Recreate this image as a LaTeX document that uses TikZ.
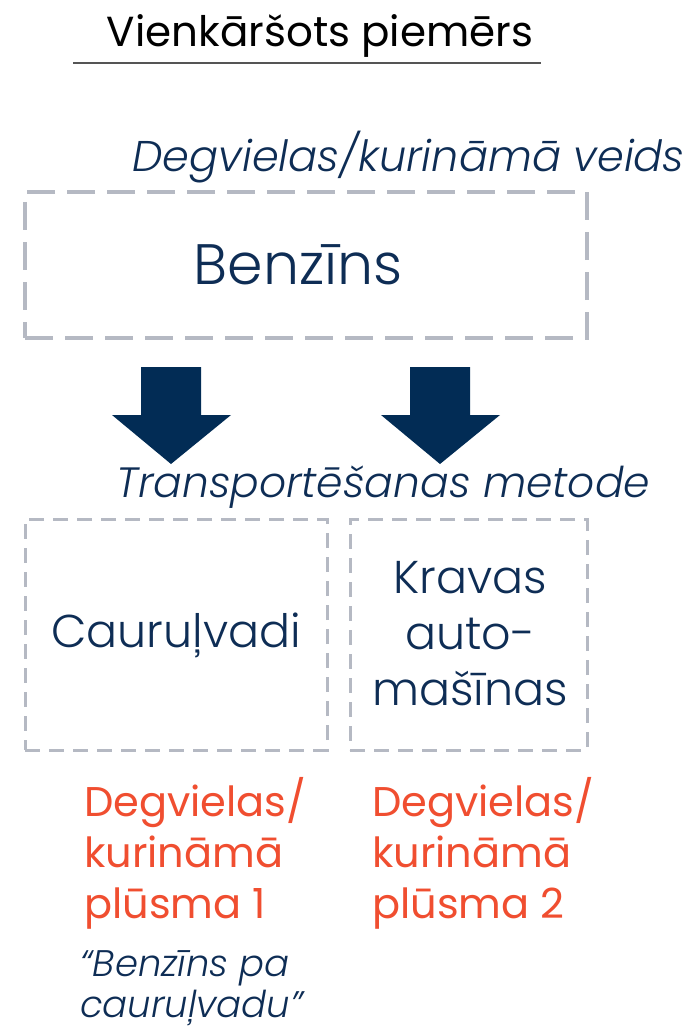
\documentclass[tikz,border=0pt]{standalone}
\usepackage{fontspec}
\setmainfont{Poppins}
\newfontfamily\lightfont{Poppins Light}[ItalicFont={Poppins Light Italic}]
\definecolor{navy}{HTML}{0E2D55}
\definecolor{arrowc}{HTML}{022C55}
\definecolor{dashc}{HTML}{B5B9C3}
\definecolor{flow}{HTML}{F04E30}
\definecolor{rule}{HTML}{555555}
\tikzset{
  dbox/.style={draw=dashc, line width=3.5pt, dash pattern=on 28pt off 12pt},
  sbox/.style={draw=dashc, line width=3pt, dash pattern=on 15pt off 9pt},
  blk/.style={fill=arrowc, draw=none},
  lbl/.style={text=navy, font=\lightfont\itshape\fontsize{43}{48}\selectfont, inner sep=0pt},
  boxtxt/.style={text=navy, font=\lightfont\fontsize{46}{56}\selectfont, inner sep=0pt, align=center},
  flowtxt/.style={text=flow, font=\fontsize{41.5}{51}\selectfont, inner sep=0pt, align=left},
  quote/.style={text=navy, font=\lightfont\itshape\fontsize{37}{41}\selectfont, inner sep=0pt, align=left}
}
\begin{document}
\begin{tikzpicture}[x=1pt,y=-1pt]
\useasboundingbox (0,0) rectangle (692,1032);
% title
\node[inner sep=0pt, anchor=base, font=\fontsize{42}{48}\selectfont] (title) at (320,47) {Vienkāršots piemērs};
\coordinate (ul) at (73,63);
\coordinate (ur) at (541,63);
\draw[rule, line width=1.3pt] (ul) -- (ur);
% fuel type label
\node[lbl, anchor=base east] (fuellbl) at (685,172) {Degvielas/kurināmā veids};
% box 1
\node[dbox, minimum width=562pt, minimum height=146pt, inner sep=0pt] (b1) at (306,265) {};
\node[boxtxt, font=\lightfont\fontsize{57}{60}\selectfont] (benz) at (298,265) {Benzīns};
% arrows
\fill[blk] (141,367) -- (201,367) -- (201,415) -- (231,415) -- (171,464) -- (112,415) -- (141,415) -- cycle;
\fill[blk] (410,367) -- (470,367) -- (470,415) -- (500,415) -- (440,464) -- (381,415) -- (410,415) -- cycle;
% transport label
\node[lbl, anchor=base west, font=\lightfont\itshape\fontsize{42.4}{48}\selectfont] (translbl) at (116,497) {Transportēšanas metode};
% boxes 2 & 3
\node[sbox, minimum width=302pt, minimum height=231pt, inner sep=0pt] (b2) at (176,634.5) {};
\node[sbox, minimum width=237pt, minimum height=231pt, inner sep=0pt] (b3) at (468.5,634.5) {};
\node[boxtxt] (cau) at (176,635) {Cauruļvadi};
\node[boxtxt] (krav) at (470,634) {Kravas\\auto-\\mašīnas};
% flows
\node[flowtxt, anchor=base west] (f1) at (84,918) {Degvielas/\\kurināmā\\plūsma 1};
\node[flowtxt, anchor=base west] (f2) at (372,918) {Degvielas/\\kurināmā\\plūsma 2};
\node[quote, anchor=base west] (q) at (80,1017) {“Benzīns pa\\cauruļvadu”};
\end{tikzpicture}
\end{document}
